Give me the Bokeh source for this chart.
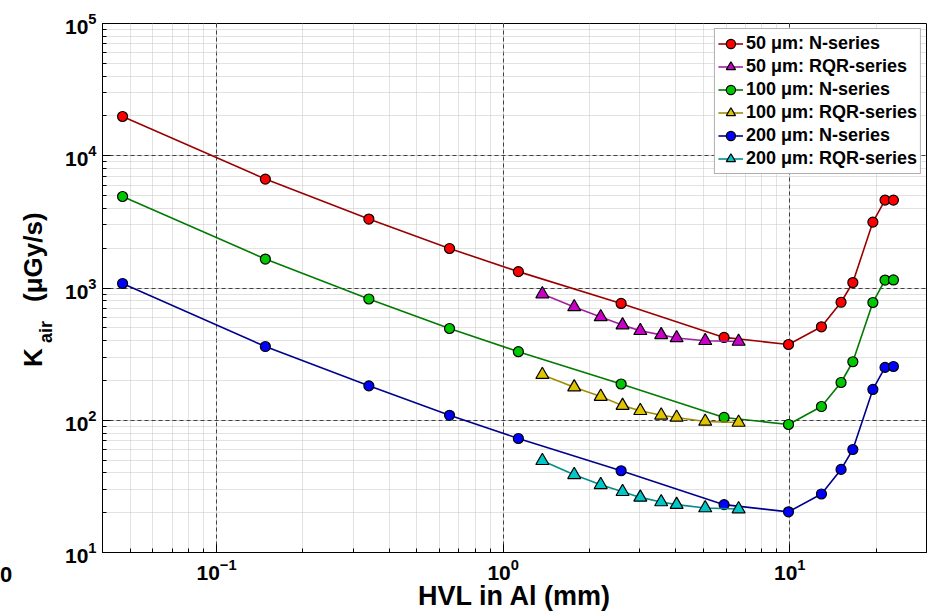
from bokeh.plotting import figure
from bokeh.models import Legend, LegendItem, Range1d, ColumnDataSource, Div
from bokeh.layouts import row, column
from bokeh.embed import file_html
from bokeh.resources import INLINE

# ---- data ----
hvl_n = [0.047, 0.148, 0.34, 0.65, 1.13, 2.58, 5.9, 9.9, 12.9, 15.1, 16.6, 19.5, 21.5, 23.0]
hvl_rqr = [1.37, 1.77, 2.19, 2.61, 3.01, 3.56, 4.03, 5.07, 6.63]

k50_n = [19800, 6660, 3320, 1990, 1330, 764, 423, 374, 509, 780, 1100, 3150, 4620, 4620]
k50_rqr = [900, 719, 604, 524, 475, 442, 419, 399, 394]
k100_n = [4920, 1655, 826, 494, 330, 188, 105, 92.9, 127, 193, 277, 777, 1148, 1151]
k100_rqr = [221, 178, 151, 129, 118, 109, 105, 97.9, 96.2]
k200_n = [1082, 361, 182, 109, 72.8, 41.5, 23.0, 20.3, 27.7, 42.5, 60.1, 171, 251, 255]
k200_rqr = [49.4, 38.7, 32.5, 28.8, 26.1, 24.1, 23.0, 21.7, 21.3]

series_labels = ["50 \u03bcm: N-series", "50 \u03bcm: RQR-series",
                 "100 \u03bcm: N-series", "100 \u03bcm: RQR-series",
                 "200 \u03bcm: N-series", "200 \u03bcm: RQR-series"]
x_title = "HVL in Al (mm)"
y_title_main, y_title_sub, y_title_unit = "K", "air", "(\u03bcGy/s)"

# ---- styles ----
styles = [
    dict(x=hvl_n, y=k50_n, marker="circle", fill="#ff0000", line="#9b0000"),
    dict(x=hvl_rqr, y=k50_rqr, marker="triangle", fill="#c800c8", line="#a020a0"),
    dict(x=hvl_n, y=k100_n, marker="circle", fill="#00c800", line="#007a00"),
    dict(x=hvl_rqr, y=k100_rqr, marker="triangle", fill="#e0c400", line="#a08c00"),
    dict(x=hvl_n, y=k200_n, marker="circle", fill="#0000ff", line="#00008c"),
    dict(x=hvl_rqr, y=k200_rqr, marker="triangle", fill="#00c8c8", line="#008c8c"),
]

W, H = 927, 615
YDIV_W = 60          # strip on the left holding the y title
XDIV_H = 31          # strip at the bottom holding the x title
FIG_W, FIG_H = W - YDIV_W, H - XDIV_H
FONT = "Liberation Sans"

p = figure(width=FIG_W, height=FIG_H, x_axis_type="log", y_axis_type="log",
           x_range=Range1d(0.04, 30), y_range=Range1d(10, 1e5),
           output_backend="svg", toolbar_location=None,
           min_border_left=102 - YDIV_W, min_border_right=1, min_border_top=23,
           min_border_bottom=FIG_H - 552,
           background_fill_color="white", border_fill_color="white",
           outline_line_color="black", outline_line_width=1, margin=0)

for ax in list(p.xaxis) + list(p.yaxis):
    ax.major_label_text_font = FONT
    ax.major_label_text_font_style = "bold"
    ax.major_label_text_font_size = "21px"
    ax.major_label_text_color = "black"
    ax.major_tick_in = 8
    ax.major_tick_out = 0
    ax.minor_tick_in = 4
    ax.minor_tick_out = 0
    ax.axis_line_color = "black"
    ax.major_tick_line_color = "black"
    ax.minor_tick_line_color = "black"
    ax.major_label_standoff = 6

for g in (p.xgrid, p.ygrid):
    g.grid_line_color = "#404040"
    g.grid_line_dash = "4 3"
    g.grid_line_width = 1
    g.minor_grid_line_color = "#c4c4c4"
    g.minor_grid_line_dash = "1 1"
    g.minor_grid_line_width = 1

items = []
for lab, s in zip(series_labels, styles):
    src = ColumnDataSource(dict(x=s["x"], y=s["y"]))
    lr = p.line("x", "y", source=src, line_color=s["line"], line_width=1.6)
    size = 10 if s["marker"] == "circle" else 13
    mr = p.scatter("x", "y", source=src, marker=s["marker"], size=size,
                   fill_color=s["fill"], line_color="black", line_width=1.2)
    items.append(LegendItem(label=lab, renderers=[lr, mr]))

legend = Legend(items=items, location="top_right", margin=5, padding=3,
                spacing=0, label_height=23, glyph_height=23, glyph_width=25,
                label_standoff=3, label_text_font=FONT, label_text_font_style="bold",
                label_text_font_size="18px", label_text_color="black",
                border_line_color="#606060", border_line_width=1,
                background_fill_color="white", background_fill_alpha=1)
p.add_layout(legend)

# ---- axis titles as HTML text beside the figure ----
rot = ("position:absolute;transform:rotate(-90deg);transform-origin:left top;"
       "white-space:nowrap;line-height:1;font-family:'Liberation Sans';font-weight:bold;color:black;")
ydiv_html = (
    f'<div style="position:relative;width:{YDIV_W}px;height:{H}px;">'
    f'<span style="{rot}left:20px;top:367px;font-size:26px;">{y_title_main}</span>'
    f'<span style="{rot}left:37px;top:343px;font-size:18px;">{y_title_sub}</span>'
    f'<span style="{rot}left:20px;top:302px;font-size:26px;">{y_title_unit}</span>'
    f'<span style="position:absolute;left:0px;top:564px;line-height:1;font-size:22px;'
    f"font-family:'Liberation Sans';font-weight:bold;color:black;\">0</span>"
    f'</div>'
)
ydiv = Div(text=ydiv_html, width=YDIV_W, height=H, margin=0)

xdiv_html = (
    f'<div style="position:relative;width:{FIG_W}px;height:{XDIV_H}px;">'
    f'<span style="position:absolute;left:{514 - YDIV_W}px;top:-1px;transform:translateX(-50%);'
    f"white-space:nowrap;line-height:1;font-size:27px;font-family:'Liberation Sans';"
    f'font-weight:bold;color:black;">{x_title}</span></div>'
)
xdiv = Div(text=xdiv_html, width=FIG_W, height=XDIV_H, margin=0)

layout = row(ydiv, column(p, xdiv, spacing=0, margin=0), spacing=0, margin=0)

open("out.html", "w").write(file_html(layout, INLINE))
